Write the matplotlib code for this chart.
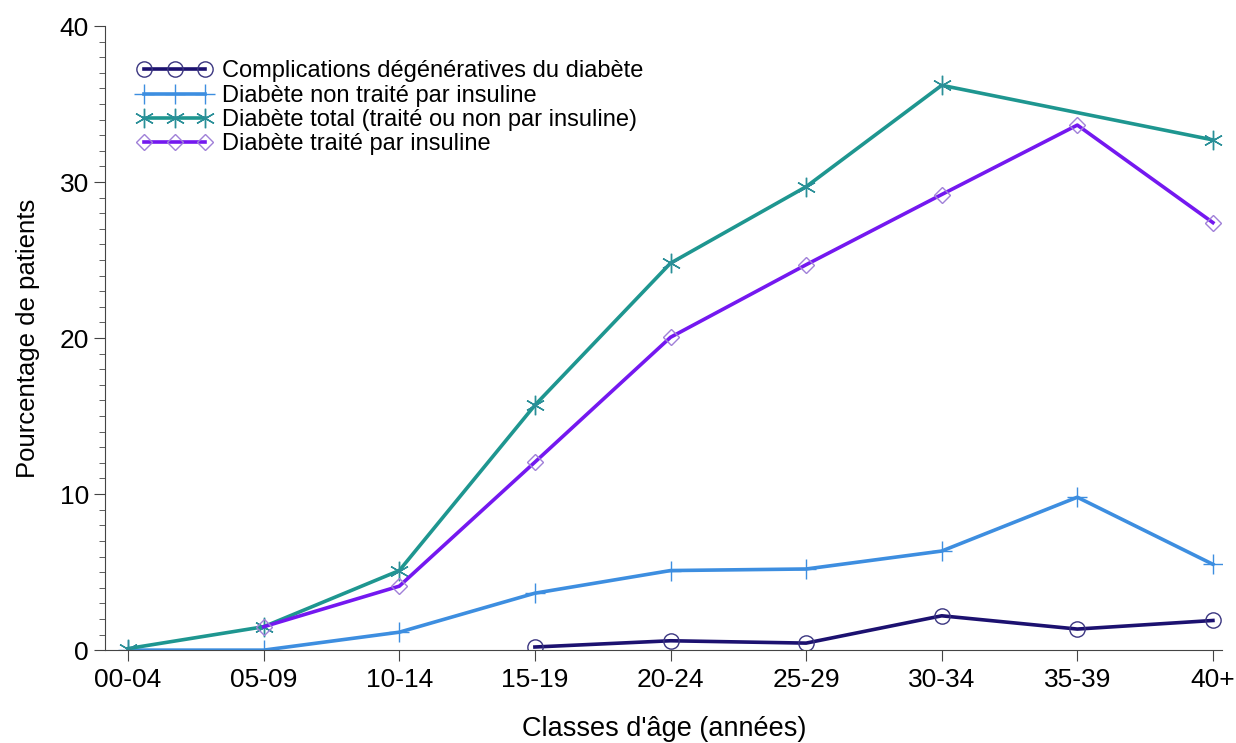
import numpy as np
import matplotlib.pyplot as plt
from matplotlib.ticker import MultipleLocator

plt.rcParams['font.family'] = ['Liberation Sans', 'DejaVu Sans']

classes = ['00-04', '05-09', '10-14', '15-19', '20-24', '25-29', '30-34', '35-39', '40+']

# nan = pas de valeur pour cette classe
complications = [np.nan, np.nan, np.nan, 0.2, 0.6, 0.45, 2.2, 1.35, 1.9]
non_traite = [0.0, 0.0, 1.15, 3.65, 5.1, 5.2, 6.35, 9.8, 5.5]
total = [0.1, 1.5, 5.1, 15.7, 24.8, 29.7, 36.2, np.nan, 32.7]
traite = [np.nan, 1.5, 4.1, 12.05, 20.05, 24.7, 29.2, 33.65, 27.4]

labels = ['Complications dégénératives du diabète',
          'Diabète non traité par insuline',
          'Diabète total (traité ou non par insuline)',
          'Diabète traité par insuline']

fig = plt.figure(figsize=(12.36, 7.43), dpi=100)
ax = fig.add_axes([0.085, 0.125, 0.904, 0.84])

x = np.arange(len(classes))

def trace(vals, color, mcolor, marker, ms, label, mew=1.0):
    v = np.array(vals, dtype=float)
    ok = ~np.isnan(v)
    ax.plot(x[ok], v[ok], color=color, lw=2.6, marker=marker, ms=ms,
            mfc='none', mec=mcolor, mew=mew, label=label)

trace(complications, '#1c1170', '#3a3580', 'o', 11, labels[0])
trace(non_traite, '#3d8ee0', '#3d8ee0', '+', 14, labels[1])
trace(total, '#1e9690', '#2a8f98', (6, 2, 0), 14, labels[2])
trace(traite, '#7418f0', '#a080d8', 'D', 8, labels[3])

ax.set_xlim(-0.17, 8.07)
ax.set_ylim(0, 40)
ax.set_xticks(x)
ax.set_xticklabels(classes)
ax.yaxis.set_major_locator(MultipleLocator(10))
ax.yaxis.set_minor_locator(MultipleLocator(1))
ax.tick_params(axis='both', labelsize=19, length=8, color='#444444')
ax.tick_params(axis='y', which='minor', length=4, color='#444444')
ax.tick_params(axis='x', pad=5)
for s in ['top', 'right']:
    ax.spines[s].set_visible(False)
for s in ['left', 'bottom']:
    ax.spines[s].set_color('#444444')

ax.set_xlabel("Classes d'âge (années)", fontsize=19.5, labelpad=17)
ax.set_ylabel('Pourcentage de patients', fontsize=18.5, labelpad=14)

ax.legend(loc='upper left', bbox_to_anchor=(0.02, 0.96), frameon=False,
          fontsize=17, handlelength=3.2, labelspacing=0.1,
          handletextpad=0.4, numpoints=3, borderaxespad=0)

fig.savefig('out.png', dpi=100)
